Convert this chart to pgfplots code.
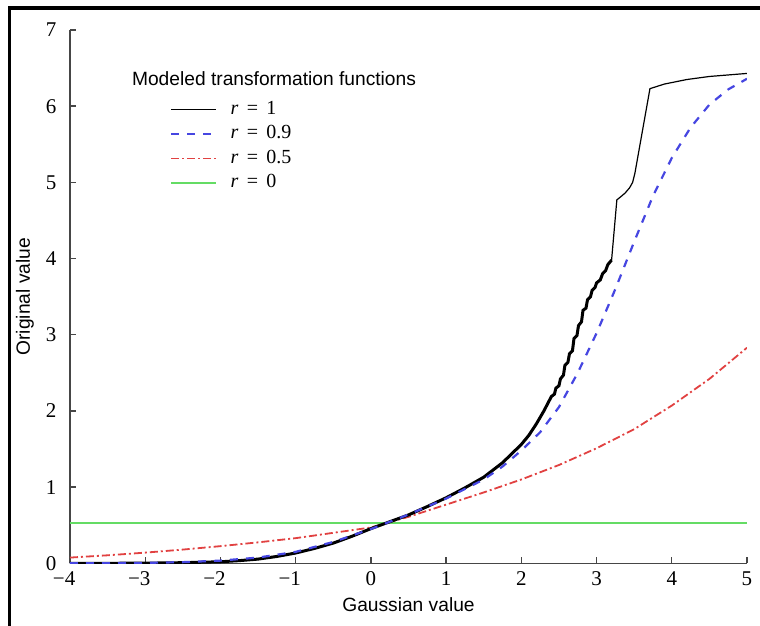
\documentclass[border=0pt]{standalone}
\usepackage{pgfplots}
\pgfplotsset{compat=1.18}
\usepackage{fontspec}
\setmainfont{Liberation Serif}
\setsansfont{Liberation Sans}
\definecolor{cnine}{RGB}{70,70,225}
\definecolor{chalf}{RGB}{225,65,65}
\definecolor{czero}{RGB}{100,220,100}
\definecolor{axgray}{RGB}{70,70,70}

% r = 1 (empirical, dense lower part)
\pgfplotstableread{
x y
-4.00 0.000
-3.50 0.000
-3.00 0.002
-2.50 0.008
-2.00 0.020
-1.75 0.035
-1.50 0.055
-1.25 0.090
-1.00 0.135
-0.75 0.195
-0.50 0.265
-0.25 0.355
0.00 0.455
0.25 0.545
0.50 0.635
0.75 0.745
1.00 0.860
1.25 0.990
1.50 1.130
1.75 1.320
2.00 1.560
2.10 1.680
2.20 1.830
2.30 2.000
2.40 2.190
2.44 2.220
2.46 2.300
2.50 2.330
2.52 2.420
2.56 2.470
2.58 2.600
2.62 2.640
2.64 2.750
2.68 2.790
2.70 2.950
2.74 2.990
2.76 3.120
2.80 3.170
2.82 3.320
2.86 3.350
2.88 3.460
2.92 3.500
2.94 3.580
2.98 3.620
3.00 3.680
3.05 3.720
3.08 3.800
3.12 3.840
3.15 3.920
3.20 3.980
}\rone
% r = 1 (sparse upper part)
\pgfplotstableread{
x y
3.20 3.98
3.27 4.77
3.32 4.81
3.38 4.86
3.44 4.93
3.48 5.00
3.51 5.12
3.71 6.23
3.90 6.29
4.20 6.35
4.50 6.39
5.00 6.43
}\roneup
\pgfplotstableread{
x y
-4.00 0.000
-3.50 0.002
-3.00 0.006
-2.50 0.015
-2.00 0.035
-1.50 0.075
-1.00 0.150
-0.50 0.280
0.00 0.450
0.50 0.640
1.00 0.850
1.50 1.100
1.75 1.270
2.00 1.480
2.25 1.720
2.50 2.050
2.75 2.500
3.00 3.020
3.25 3.600
3.50 4.220
3.75 4.820
4.00 5.320
4.25 5.720
4.50 6.020
4.75 6.220
5.00 6.360
}\rnine
\pgfplotstableread{
x y
-4.0 0.075
-3.5 0.105
-3.0 0.140
-2.5 0.180
-2.0 0.225
-1.5 0.275
-1.0 0.330
-0.5 0.400
0.0 0.470
0.5 0.610
1.0 0.770
1.5 0.930
2.0 1.100
2.5 1.290
3.0 1.510
3.5 1.760
4.0 2.070
4.5 2.420
5.0 2.830
}\rhalf

\newcommand{\req}[1]{\textit{r}\hspace{0.42em}=\hspace{0.42em}#1}

\begin{document}
\begin{tikzpicture}
\useasboundingbox (-35pt,-31.35pt) rectangle (345pt,281.65pt);
\draw[line width=1.6pt] (-30.25pt,-40pt) -- (-30.25pt,277.65pt) -- (360pt,277.65pt);
\begin{axis}[
  scale only axis,
  width=338.5pt, height=266.65pt,
  xmin=-4, xmax=5, ymin=0, ymax=7,
  axis x line*=bottom, axis y line*=left,
  axis line style={axgray, line width=0.7pt, -},
  every tick/.style={axgray, line width=0.7pt},
  major tick length=3pt,
  tick align=inside,
  xtick={-4,...,5}, ytick={0,...,7},
  xticklabels={\llap{−}4,\llap{−}3,\llap{−}2,\llap{−}1,0,1,2,3,4,5},
  ticklabel style={font=\fontsize{10.5}{12}\selectfont},
  /pgf/number format/assume math mode=true,
  x tick label style={yshift=-0.8pt},
  y tick label style={xshift=-3.3pt},
  xlabel={Gaussian value}, ylabel={Original value},
  label style={font=\sffamily\fontsize{9.6}{11}\selectfont},
  xlabel style={at={(axis description cs:0.5,-0.0913)}, anchor=base},
  ylabel style={at={(axis description cs:-0.0591,0.5)}, anchor=base},
  legend cell align=left,
  legend image code/.code={\draw[#1] (0pt,0pt) -- (22.5pt,0pt);},
  legend style={draw=none, fill=none, at={(axis description cs:0.1477,0.8706)},
    anchor=north west, inner sep=0pt, row sep=2.25pt, column sep=5.5pt,
    nodes={font=\fontsize{10}{11}\selectfont, inner sep=1pt, text height=6.5pt, text depth=1.5pt}},
]
\addlegendimage{black, line width=0.6pt}
\addlegendentry{\req{1}}
\addlegendimage{cnine, line width=1.1pt, dash pattern=on 4pt off 4pt}
\addlegendentry{\req{0.9}}
\addlegendimage{chalf, line width=0.9pt, dash pattern=on 4pt off 1.5pt on 1pt off 1.5pt}
\addlegendentry{\req{0.5}}
\addlegendimage{czero, line width=0.9pt}
\addlegendentry{\req{0}}

\addplot[czero, line width=0.9pt, forget plot] coordinates {(-4,0.53) (5,0.53)};
\addplot[chalf, line width=0.9pt, dash pattern=on 4pt off 1.5pt on 1pt off 1.5pt, forget plot] table {\rhalf};
\addplot[black, line width=1.5pt, forget plot] table {\rone};
\addplot[black, line width=0.6pt, forget plot] table {\roneup};
\addplot[cnine, line width=1.1pt, dash pattern=on 4pt off 4pt, forget plot] table {\rnine};

\node[anchor=base west, inner sep=0pt, font=\sffamily\fontsize{9.6}{11}\selectfont]
  at (axis description cs:0.0911,0.8955) {Modeled transformation functions};
\end{axis}
\end{tikzpicture}
\end{document}
